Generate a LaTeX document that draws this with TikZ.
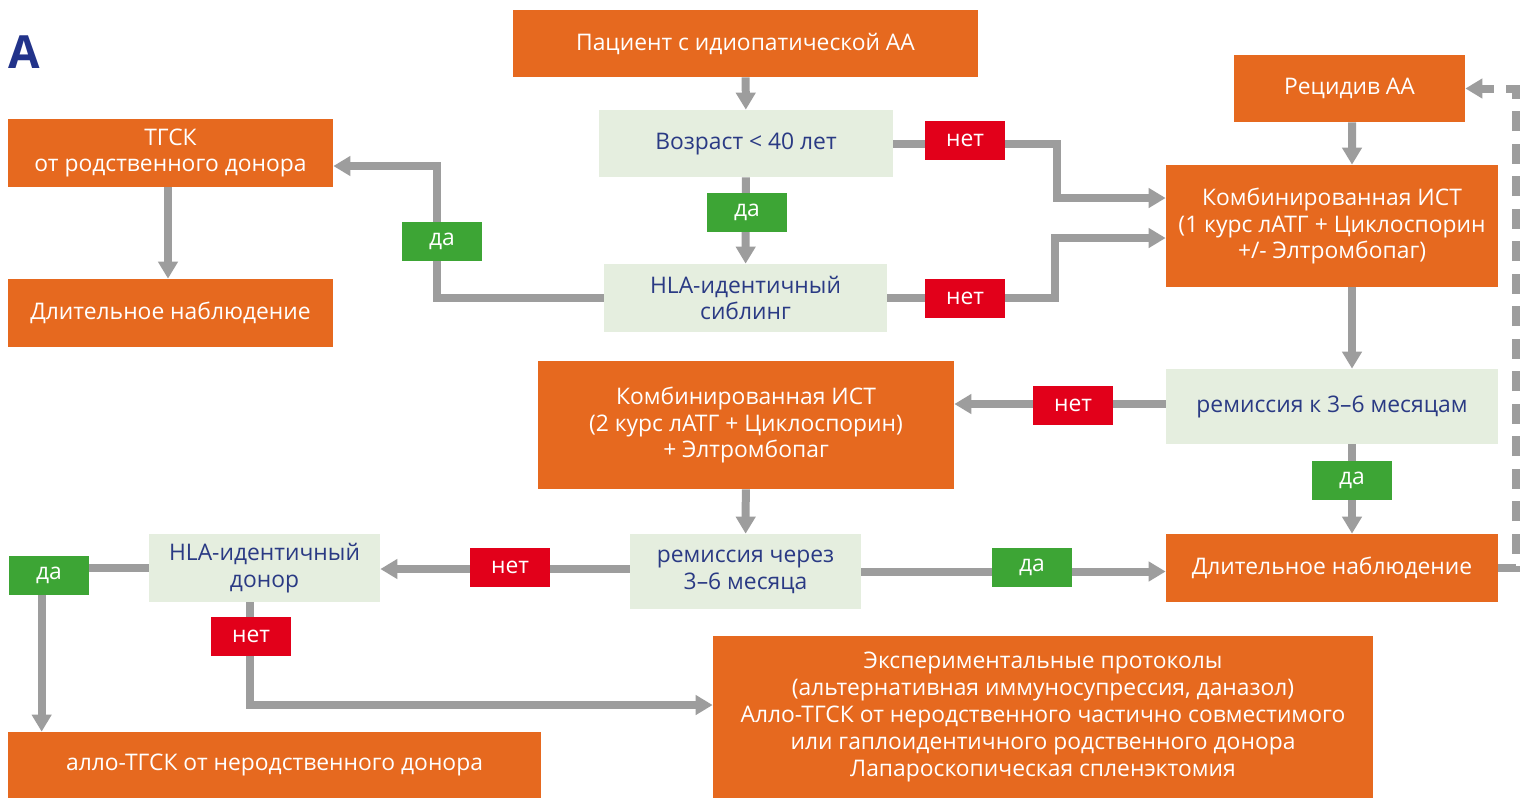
\documentclass[tikz,border=0pt]{standalone}
\usepackage{fontspec}
\setmainfont{Open Sans}
\usetikzlibrary{arrows.meta,calc}
\definecolor{boxorange}{HTML}{E6691F}
\definecolor{boxpale}{HTML}{E5EEDF}
\definecolor{tagyes}{HTML}{3DA535}
\definecolor{tagno}{HTML}{E2001A}
\definecolor{wire}{HTML}{9D9D9D}
\definecolor{ink}{HTML}{2A3A84}
\definecolor{titleblue}{HTML}{22338A}
\begin{document}
\begin{tikzpicture}[x=0.02cm,y=-0.02cm,
  base/.style={rectangle, inner sep=0pt, align=center,
    font=\fontsize{13}{15.3}\selectfont},
  wh/.style 2 args={minimum width=#1*0.02cm, minimum height=#2*0.02cm},
  action/.style={base, fill=boxorange, text=white},
  query/.style={base, fill=boxpale, text=ink},
  yes/.style={base, fill=tagyes, text=white, wh={80}{39}},
  no/.style={base, fill=tagno, text=white, wh={80}{39}},
  wireline/.style={draw=wire, line width=0.16cm},
  link/.style={wireline, -{Triangle[length=0.34cm,width=0.38cm]}},
  dashlink/.style={link, dash pattern=on 0.4cm off 0.25cm}]
\useasboundingbox[fill=white] (0,0) rectangle (1520,799);

\node[font=\fontsize{26}{30}\selectfont\bfseries, text=titleblue, anchor=base west, inner sep=0pt] (title) at (8,68) {A};

% main boxes
\node[action, wh={465}{67}] (patient) at (745.5,43.5) {Пациент с идиопатической АА};
\node[query, wh={294}{67}] (age) at (746,143.5) {Возраст < 40 лет};
\node[query, wh={283}{68}] (sib) at (745.5,298) {HLA-идентичный\\сиблинг};
\node[action, wh={231}{67}] (relapse) at (1349.5,88.5) {Рецидив АА};
\node[action, wh={332}{122}] (ist1) at (1332,226) {Комбинированная ИСТ\\(1 курс лАТГ + Циклоспорин\\+/- Элтромбопаг)};
\node[action, wh={325}{68}] (hsct) at (170.5,153) {ТГСК\\от родственного донора};
\node[action, wh={325}{68}] (obs1) at (170.5,313) {Длительное наблюдение};
\node[query, wh={332}{75}] (rem1) at (1332,406.5) {ремиссия к 3–6 месяцам};
\node[action, wh={416}{128}] (ist2) at (746,425) {Комбинированная ИСТ\\(2 курс лАТГ + Циклоспорин)\\+ Элтромбопаг};
\node[action, wh={332}{68}] (obs2) at (1332,568) {Длительное наблюдение};
\node[query, wh={231}{75}] (rem2) at (745.5,571.5) {ремиссия через\\3–6 месяца};
\node[query, wh={231}{68}] (donor) at (264.5,568) {HLA-идентичный\\донор};
\node[action, wh={533}{66}] (allo) at (274.5,765) {алло-ТГСК от неродственного донора};
\node[action, wh={660}{162}] (exper) at (1043,717) {Экспериментальные протоколы\\(альтернативная иммуносупрессия, даназол)\\Алло-ТГСК от неродственного частично совместимого\\или гаплоидентичного родственного донора\\Лапароскопическая спленэктомия};

% connectors
\draw[link] (patient) -- (age);
\draw[link] (age) -- (sib);
\draw[link] (age.east) -- ++(164,0) |- ($(ist1.west)+(0,-28)$);
\draw[link] (sib.east) -- ++(168,0) |- ($(ist1.west)+(0,12)$);
\draw[link] (sib.west) -- ++(-167,0) |- ($(hsct.east)+(0,13)$);
\draw[link] ($(hsct.south)+(-2.5,0)$) -- ($(obs1.north)+(-2.5,0)$);
\draw[link] ($(relapse.south)+(2.5,0)$) -- ($(ist1.north)+(20,0)$);
\draw[link] ($(ist1.south)+(20,0)$) -- ($(rem1.north)+(20,0)$);
\draw[link] ($(rem1.west)+(0,-2.5)$) -- ($(ist2.east)+(0,-21)$);
\draw[link] ($(rem1.south)+(20,0)$) -- ($(obs2.north)+(20,0)$);
\draw[link] (ist2) -- (rem2);
\draw[link] (rem2.east) -- (obs2.west |- rem2.east);
\draw[link] ($(rem2.west)+(0,-2.5)$) -- ($(donor.east)+(0,1)$);
\draw[link] (donor.west) -| ($(allo.north west)+(34,0)$);
\draw[link] ($(donor.south)+(-14.5,0)$) |- ($(exper.west)+(0,-12)$);
\draw[dashlink] (obs2.east) -- ++(18,0) |- (relapse.east);

% branch tags
\node[yes] (y1) at (747,212.5) {да};
\node[yes] (y2) at (442,241.5) {да};
\node[no] (n1) at (965,140.5) {нет};
\node[no] (n2) at (965,298.5) {нет};
\node[no] (n3) at (1073,405.5) {нет};
\node[yes] (y3) at (1352,480.5) {да};
\node[yes] (y4) at (1032,567.5) {да};
\node[no] (n4) at (510,567.5) {нет};
\node[yes] (y5) at (49,575) {да};
\node[no] (n5) at (251,636.5) {нет};
\end{tikzpicture}
\end{document}
